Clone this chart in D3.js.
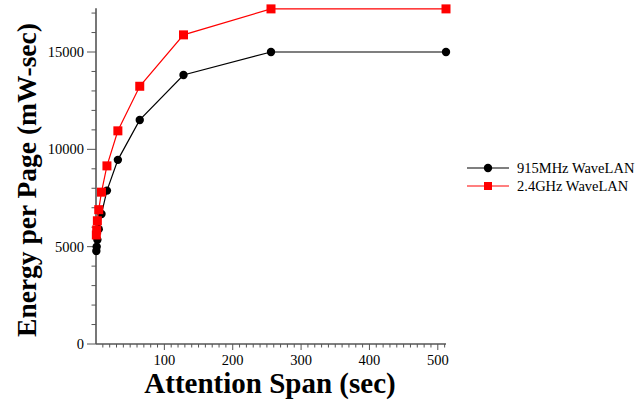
<!DOCTYPE html>
<html>
<head>
<meta charset="utf-8">
<script src="https://cdn.jsdelivr.net/npm/d3@7"></script>
<style>
	body { margin: 0; background: #fff; }
</style>
</head>
<body>
<svg id="chart" width="644" height="402" font-family="'Liberation Serif', 'Times New Roman', Times, serif"></svg>
<script>
// attention span (sec)
var spans = [0.5, 1, 2, 4, 8, 16, 32, 64, 128, 256, 512];
// energy per page (mW-sec)
var wave915 = [4780, 5000, 5350, 5900, 6680, 7880, 9460, 11510, 13820, 15000, 15000];
var wave24 = [5600, 5860, 6330, 6900, 7800, 9150, 10950, 13240, 15880, 17215, 17215];
var xTicks = [100, 200, 300, 400, 500];
var yTicks = [0, 5000, 10000, 15000];
var seriesNames = ["915MHz WaveLAN", "2.4GHz WaveLAN"];

var svg = d3.select("#chart");

var xscale = d3.scaleLinear().domain([0, 512]).range([96, 446]),
	yscale = d3.scaleLinear().domain([0, 17250]).range([344, 8.2]);

var axisColor = "#555";

// x axis, minor ticks every 10
var xg = svg.append("g").attr("transform", "translate(0,344)");
xg.append("line")
	.attr("x1", xscale(0)).attr("x2", xscale(512))
	.attr("y1", 0).attr("y2", 0)
	.attr("stroke", axisColor).attr("stroke-width", 1.6);
xg.selectAll(".minor")
	.data(d3.range(10, 512, 10))
	.enter().append("line")
	.attr("x1", function (d) { return xscale(d); })
	.attr("x2", function (d) { return xscale(d); })
	.attr("y1", 0)
	.attr("y2", function (d) { return d % 100 === 0 ? 6 : 3.5; })
	.attr("stroke", axisColor).attr("stroke-width", 1);
xg.selectAll(".lbl")
	.data(xTicks)
	.enter().append("text")
	.attr("x", function (d) { return xscale(d); })
	.attr("y", 21)
	.attr("text-anchor", "middle")
	.attr("font-size", 14.5)
	.text(function (d) { return d; });

// y axis, minor ticks every 1000
var yg = svg.append("g").attr("transform", "translate(96,0)");
yg.append("line")
	.attr("x1", 0).attr("x2", 0)
	.attr("y1", yscale(0)).attr("y2", yscale(17250))
	.attr("stroke", axisColor).attr("stroke-width", 1.6);
yg.selectAll(".minor")
	.data(d3.range(0, 17001, 1000))
	.enter().append("line")
	.attr("y1", function (d) { return yscale(d); })
	.attr("y2", function (d) { return yscale(d); })
	.attr("x1", function (d) { return d % 5000 === 0 ? -9 : -4.5; })
	.attr("x2", 0)
	.attr("stroke", axisColor).attr("stroke-width", 1);
yg.selectAll(".lbl")
	.data(yTicks)
	.enter().append("text")
	.attr("x", -12)
	.attr("y", function (d) { return yscale(d); })
	.attr("dy", "0.35em")
	.attr("text-anchor", "end")
	.attr("font-size", 14.5)
	.text(function (d) { return d; });

// titles
svg.append("text")
	.attr("x", 270).attr("y", 393)
	.attr("text-anchor", "middle")
	.attr("font-size", 29).attr("font-weight", "bold")
	.text("Attention Span (sec)");
svg.append("text")
	.attr("transform", "translate(36,180) rotate(-90)")
	.attr("text-anchor", "middle")
	.attr("font-size", 27.5).attr("font-weight", "bold")
	.text("Energy per Page (mW-sec)");

// series
var line = d3.line()
	.x(function (d) { return xscale(d[0]); })
	.y(function (d) { return yscale(d[1]); });

function pairs(vals) {
	return spans.map(function (s, i) { return [s, vals[i]]; });
}

var black = pairs(wave915), red = pairs(wave24);

svg.append("path").attr("d", line(black))
	.attr("fill", "none").attr("stroke", "#000").attr("stroke-width", 1.2);
svg.selectAll(".dot")
	.data(black)
	.enter().append("circle")
	.attr("cx", function (d) { return xscale(d[0]); })
	.attr("cy", function (d) { return yscale(d[1]); })
	.attr("r", 4.2)
	.attr("fill", "#000");

svg.append("path").attr("d", line(red))
	.attr("fill", "none").attr("stroke", "#f00").attr("stroke-width", 1.2);
svg.selectAll(".sq")
	.data(red)
	.enter().append("rect")
	.attr("x", function (d) { return xscale(d[0]) - 4.5; })
	.attr("y", function (d) { return yscale(d[1]) - 4.5; })
	.attr("width", 9).attr("height", 9)
	.attr("fill", "#f00");

// legend
var lg = svg.append("g").attr("transform", "translate(467,168)");
seriesNames.forEach(function (name, i) {
	var y = i * 18,
		col = i === 0 ? "#000" : "#f00";
	lg.append("line")
		.attr("x1", 0).attr("x2", 42).attr("y1", y).attr("y2", y)
		.attr("stroke", col).attr("stroke-width", 1.2);
	if (i === 0) {
		lg.append("circle").attr("cx", 21).attr("cy", y).attr("r", 4.2).attr("fill", col);
	} else {
		lg.append("rect").attr("x", 17).attr("y", y - 4).attr("width", 8).attr("height", 8).attr("fill", col);
	}
	lg.append("text")
		.attr("x", 50).attr("y", y)
		.attr("dy", "0.35em")
		.attr("font-size", 14.5)
		.text(name);
});
</script>
</body>
</html>
